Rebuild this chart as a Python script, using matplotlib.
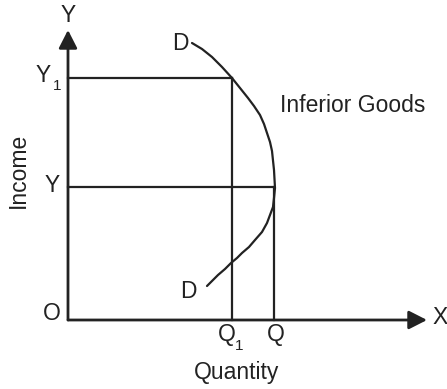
import matplotlib.pyplot as plt

plt.rcParams['font.family'] = ['Liberation Sans', 'DejaVu Sans']

# values (origin at O)
q = 206       # Q
q1 = 164      # Q1
y = 133       # Y
y1 = 242      # Y1

# demand curve D (quantity, income)
curve_q = [124, 134, 144, 154, 164, 172, 180, 186, 192, 196, 199, 202, 204, 206, 207,
           206, 205, 202, 199, 194, 187, 181, 174, 169, 163, 157, 150, 145, 139]
curve_y = [277, 271, 263, 253, 242, 232, 222, 214, 205, 196, 187, 178, 169, 150, 132,
           122, 113, 105, 97, 88, 80, 73, 67, 62, 57, 51, 45, 40, 34]

fig = plt.figure(figsize=(4.47, 3.89), dpi=100)
ax = fig.add_axes([0, 0, 1, 1])
ax.set_xlim(-68, 379)
ax.set_ylim(-69, 320)
ax.axis('off')

# axes with arrows
arr = dict(arrowstyle='-|>,head_length=0.55,head_width=0.28', lw=2, color='#222222',
           shrinkA=0, shrinkB=0, mutation_scale=20)
ax.annotate('', xy=(0, 290), xytext=(0, 0), arrowprops=arr)
ax.annotate('', xy=(359, 0), xytext=(0, 0), arrowprops=arr)

# guide lines
ax.plot([0, q1], [y1, y1], color='#222222', lw=1.6)
ax.plot([q1, q1], [0, y1], color='#222222', lw=1.6)
ax.plot([0, q], [y, y], color='#222222', lw=1.6)
ax.plot([q, q], [0, y], color='#222222', lw=1.6)

# D curve
ax.plot(curve_q, curve_y, color='#222222', lw=1.6, solid_capstyle='round',
        solid_joinstyle='round')

fs = 16.5
tk = dict(color='#222222', fontsize=fs, ha='center', va='center')
ax.text(0, 305, 'Y', **tk)
ax.text(372, 2, 'X', **tk)
ax.text(-16, 7, 'O', **tk)
ax.text(-25, 245, 'Y', **tk)
ax.text(-11, 234, '1', color='#222222', fontsize=11, ha='center', va='center')
ax.text(159, -15, 'Q', **tk)
ax.text(171, -26, '1', color='#222222', fontsize=11, ha='center', va='center')
ax.text(-16, 135, 'Y', **tk)
ax.text(208, -15, 'Q', **tk)
ax.text(112, 277, 'D', **tk)
ax.text(120, 28, 'D', **tk)
ax.text(212, 215, 'Inferior Goods', color='#222222', fontsize=fs, ha='left', va='center')
ax.text(169, -53, 'Quantity', **tk)
ax.text(-50, 150, 'Income', color='#222222', fontsize=fs, ha='center', va='center',
        rotation=90)

fig.savefig('out.png', dpi=100)
